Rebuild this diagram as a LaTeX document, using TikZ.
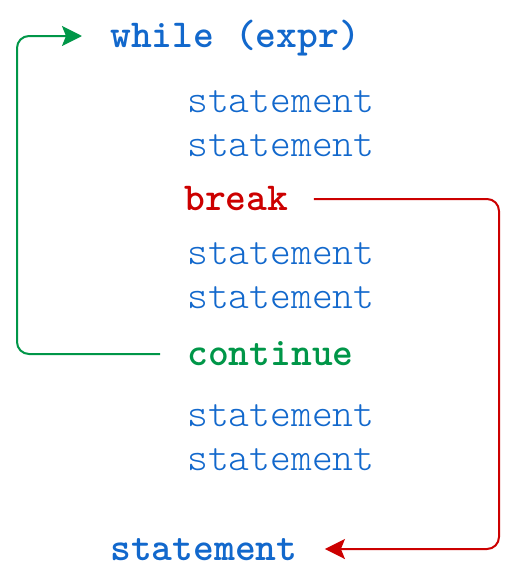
\documentclass[tikz,border=0pt]{standalone}
\usepackage{fontspec}
\setmonofont{lmmonolt10-regular.otf}[BoldFont=lmmonolt10-bold.otf]
\usetikzlibrary{arrows.meta,calc}
\usepackage{xcolor}
\definecolor{codeblue}{RGB}{18,104,204}
\definecolor{codered}{RGB}{204,0,0}
\definecolor{codegreen}{RGB}{0,150,72}

\begin{document}
\begin{tikzpicture}[x=0.5pt, y=-0.5pt,
    font=\fontsize{19.8pt}{22pt}\selectfont\ttfamily, >=Stealth,
    code/.style={anchor=mid west, inner sep=0pt, text=#1},
    kw/.style={code=#1, font=\fontsize{19.8pt}{22pt}\selectfont\ttfamily\bfseries},
    jump/.style={draw=#1, line width=1pt, rounded corners=6pt,
                 -{Stealth[length=10pt, width=10pt, inset=2pt]}}]

  \useasboundingbox (0,0) rectangle (518,584);

  %% Loop header
  \node[kw=codeblue] (while) at (110,43) {while (expr)};

  %% Loop body
  \node[code=codeblue] (s1) at (187,108) {statement};
  \node[code=codeblue] (s2) at (187,152) {statement};
  \node[kw=codered] (brk) at (184,206) {break};
  \node[code=codeblue] (s3) at (187,260) {statement};
  \node[code=codeblue] (s4) at (187,304) {statement};
  \node[kw=codegreen] (cont) at (187,361) {continue};
  \node[code=codeblue] (s5) at (187,422) {statement};
  \node[code=codeblue] (s6) at (187,466) {statement};

  %% After the loop
  \node[kw=codeblue] (after) at (110,556) {statement};

  %% Jump ends
  \coordinate (cfrom) at ([shift={(-13.5pt,3.5pt)}]cont.mid west);
  \coordinate (cto) at ([shift={(-14pt,3.5pt)}]while.mid west);
  \coordinate (bfrom) at ([shift={(12.5pt,3.5pt)}]brk.mid east);
  \coordinate (bto) at ([shift={(13.5pt,3.5pt)}]after.mid east);
  \coordinate (gl) at (17,0);
  \coordinate (rr) at (499,0);

  %% Jumps
  \draw[jump=codegreen] (cfrom) -- (gl |- cfrom) -- (gl |- cto) -- (cto);
  \draw[jump=codered] (bfrom) -- (rr |- bfrom) -- (rr |- bto) -- (bto);
\end{tikzpicture}
\end{document}
